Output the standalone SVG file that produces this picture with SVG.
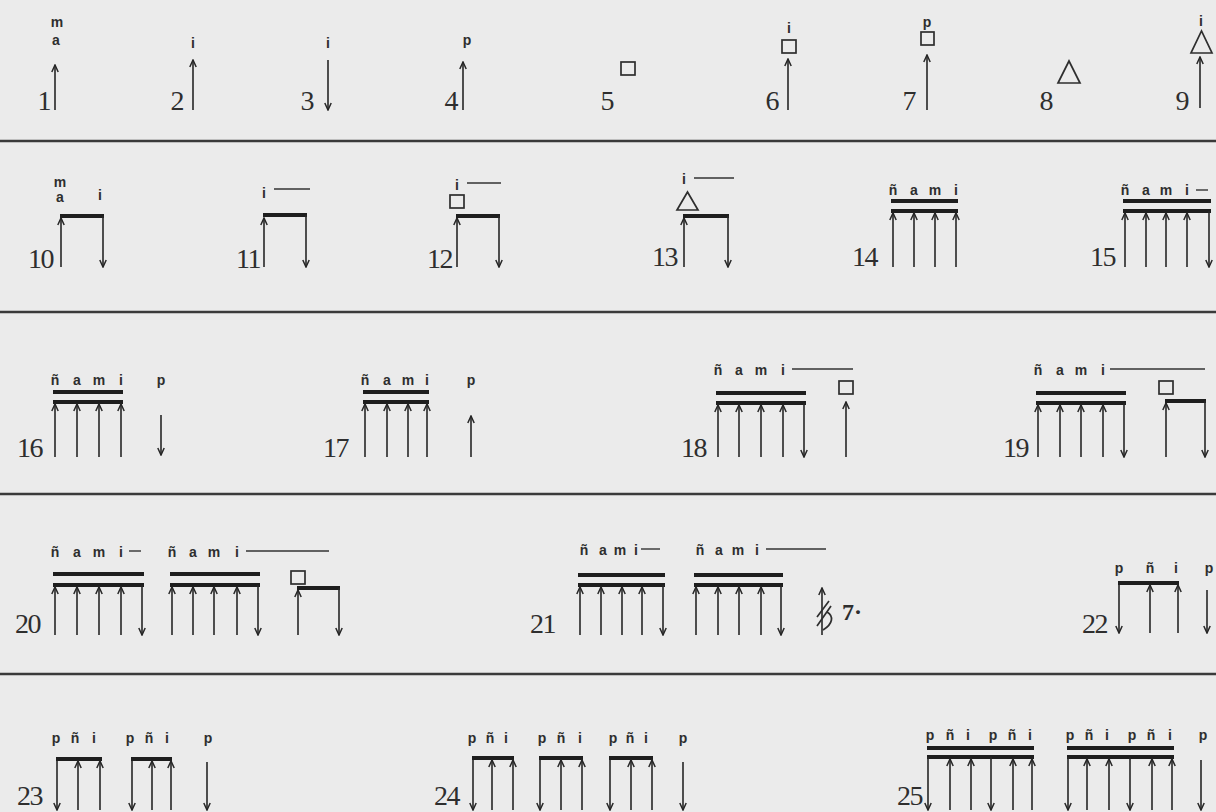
<svg xmlns="http://www.w3.org/2000/svg" width="1216" height="812" viewBox="0 0 1216 812">
<defs>
<marker id="ah" viewBox="-8 -4 9 8" refX="0" refY="0" markerWidth="9" markerHeight="8" orient="auto" markerUnits="userSpaceOnUse">
<path d="M-7,-3.2 L0,0 L-7,3.2" fill="none" stroke="#262626" stroke-width="1.5"/>
</marker>
<style>
.num{font-family:"Liberation Serif",serif;font-size:28px;fill:#2e2e2e;text-anchor:end;letter-spacing:-1.5px}
.lb{font-family:"Liberation Sans",sans-serif;font-weight:bold;font-size:14px;fill:#2e2e2e;text-anchor:middle}
.ar{stroke:#262626;stroke-width:1.6;fill:none;marker-end:url(#ah)}
.bm{stroke:#1e1e1e;stroke-width:3.8}
.ln{stroke:#333;stroke-width:1.4}
.sym{fill:none;stroke:#2e2e2e;stroke-width:1.7}
.sep{stroke:#3a3a3a;stroke-width:2.5}
</style>
</defs>
<rect width="1216" height="812" fill="#ebebeb"/>
<g id="separators">
<line class="sep" x1="0" y1="141" x2="1216" y2="141"/>
<line class="sep" x1="0" y1="312" x2="1216" y2="312"/>
<line class="sep" x1="0" y1="494" x2="1216" y2="494"/>
<line class="sep" x1="0" y1="674" x2="1216" y2="674"/>
</g>
<g id="item1"><text class="num" x="50" y="110">1</text><line class="ar" x1="55" y1="110" x2="55" y2="65"/><text class="lb" x="57" y="27">m</text><text class="lb" x="56" y="45">a</text></g>
<g id="item2"><text class="num" x="183" y="110">2</text><line class="ar" x1="193" y1="110" x2="193" y2="60"/><text class="lb" x="193" y="48">i</text></g>
<g id="item3"><text class="num" x="313" y="110">3</text><line class="ar" x1="328" y1="60" x2="328" y2="110"/><text class="lb" x="328" y="48">i</text></g>
<g id="item4"><text class="num" x="457" y="110">4</text><line class="ar" x1="463" y1="110" x2="463" y2="62"/><text class="lb" x="467" y="45">p</text></g>
<g id="item5"><text class="num" x="613" y="110">5</text><rect class="sym" x="621" y="62" width="14" height="13"/></g>
<g id="item6"><text class="num" x="778" y="110">6</text><line class="ar" x1="788" y1="110" x2="788" y2="59"/><rect class="sym" x="782" y="40" width="14" height="13"/><text class="lb" x="789" y="33">i</text></g>
<g id="item7"><text class="num" x="915" y="110">7</text><line class="ar" x1="927" y1="110" x2="927" y2="55"/><rect class="sym" x="921" y="32" width="13" height="13"/><text class="lb" x="927" y="27">p</text></g>
<g id="item8"><text class="num" x="1052" y="110">8</text><polygon class="sym" points="1058,83 1080,83 1069,61"/></g>
<g id="item9"><text class="num" x="1188" y="110">9</text><line class="ar" x1="1200" y1="108" x2="1200" y2="57"/><polygon class="sym" points="1191,53 1212,53 1201.5,31"/><text class="lb" x="1201" y="26">i</text></g>

<g id="item10"><text class="num" x="53" y="268">10</text><line class="ar" x1="61" y1="267" x2="61" y2="218"/><line class="bm" x1="60" y1="216" x2="104" y2="216"/><line class="ar" x1="103" y1="216" x2="103" y2="267"/><text class="lb" x="60" y="187">m</text><text class="lb" x="60" y="202">a</text><text class="lb" x="100" y="200">i</text></g>
<g id="item11"><text class="num" x="260" y="268">11</text><line class="ar" x1="264" y1="267" x2="264" y2="218"/><line class="bm" x1="263" y1="215" x2="307" y2="215"/><line class="ar" x1="306" y1="215" x2="306" y2="267"/><text class="lb" x="264" y="198">i</text><line class="ln" x1="274" y1="189" x2="310" y2="189"/></g>
<g id="item12"><text class="num" x="452" y="268">12</text><line class="ar" x1="457" y1="267" x2="457" y2="218"/><line class="bm" x1="456" y1="216" x2="500" y2="216"/><line class="ar" x1="499" y1="216" x2="499" y2="267"/><rect class="sym" x="450" y="195" width="14" height="13"/><text class="lb" x="457" y="190">i</text><line class="ln" x1="467" y1="183" x2="501" y2="183"/></g>
<g id="item13"><text class="num" x="677" y="266">13</text><line class="ar" x1="684" y1="267" x2="684" y2="218"/><line class="bm" x1="683" y1="216" x2="729" y2="216"/><line class="ar" x1="728" y1="216" x2="728" y2="267"/><polygon class="sym" points="677,210 698,210 687.5,192"/><text class="lb" x="684" y="184">i</text><line class="ln" x1="694" y1="178" x2="734" y2="178"/></g>
<g id="item14"><text class="num" x="877" y="266">14</text><line class="bm" x1="891" y1="201" x2="958" y2="201"/><line class="bm" x1="891" y1="211" x2="958" y2="211"/><line class="ar" x1="893" y1="267" x2="893" y2="213"/><line class="ar" x1="914" y1="267" x2="914" y2="213"/><line class="ar" x1="935" y1="267" x2="935" y2="213"/><line class="ar" x1="956" y1="267" x2="956" y2="213"/><text class="lb" x="893 914 935 956" y="195">ñami</text></g>
<g id="item15"><text class="num" x="1115" y="266">15</text><line class="bm" x1="1123" y1="201" x2="1211" y2="201"/><line class="bm" x1="1123" y1="211" x2="1211" y2="211"/><line class="ar" x1="1125" y1="267" x2="1125" y2="213"/><line class="ar" x1="1146" y1="267" x2="1146" y2="213"/><line class="ar" x1="1166" y1="267" x2="1166" y2="213"/><line class="ar" x1="1187" y1="267" x2="1187" y2="213"/><line class="ar" x1="1209" y1="211" x2="1209" y2="267"/><text class="lb" x="1125 1146 1166 1187" y="195">ñami</text><line class="ln" x1="1196" y1="190" x2="1208" y2="190"/></g>

<g id="item16"><text class="num" x="42" y="457">16</text><line class="bm" x1="53" y1="392" x2="123" y2="392"/><line class="bm" x1="53" y1="402" x2="123" y2="402"/><line class="ar" x1="55" y1="457" x2="55" y2="404"/><line class="ar" x1="77" y1="457" x2="77" y2="404"/><line class="ar" x1="99" y1="457" x2="99" y2="404"/><line class="ar" x1="121" y1="457" x2="121" y2="404"/><text class="lb" x="55 77 99 121" y="385">ñami</text><text class="lb" x="161" y="385">p</text><line class="ar" x1="161" y1="415" x2="161" y2="455"/></g>
<g id="item17"><text class="num" x="348" y="457">17</text><line class="bm" x1="363" y1="392" x2="429" y2="392"/><line class="bm" x1="363" y1="402" x2="429" y2="402"/><line class="ar" x1="365" y1="457" x2="365" y2="404"/><line class="ar" x1="387" y1="457" x2="387" y2="404"/><line class="ar" x1="408" y1="457" x2="408" y2="404"/><line class="ar" x1="427" y1="457" x2="427" y2="404"/><text class="lb" x="365 387 408 427" y="385">ñami</text><text class="lb" x="471" y="385">p</text><line class="ar" x1="471" y1="457" x2="471" y2="416"/></g>
<g id="item18"><text class="num" x="706" y="457">18</text><line class="bm" x1="716" y1="393" x2="806" y2="393"/><line class="bm" x1="716" y1="403" x2="806" y2="403"/><line class="ar" x1="718" y1="457" x2="718" y2="405"/><line class="ar" x1="739" y1="457" x2="739" y2="405"/><line class="ar" x1="761" y1="457" x2="761" y2="405"/><line class="ar" x1="783" y1="457" x2="783" y2="405"/><line class="ar" x1="804" y1="403" x2="804" y2="457"/><text class="lb" x="718 739 761 783" y="375">ñami</text><line class="ln" x1="792" y1="369" x2="853" y2="369"/><rect class="sym" x="839" y="381" width="14" height="13"/><line class="ar" x1="846" y1="457" x2="846" y2="402"/></g>
<g id="item19"><text class="num" x="1028" y="457">19</text><line class="bm" x1="1036" y1="393" x2="1126" y2="393"/><line class="bm" x1="1036" y1="403" x2="1126" y2="403"/><line class="ar" x1="1038" y1="457" x2="1038" y2="405"/><line class="ar" x1="1060" y1="457" x2="1060" y2="405"/><line class="ar" x1="1081" y1="457" x2="1081" y2="405"/><line class="ar" x1="1103" y1="457" x2="1103" y2="405"/><line class="ar" x1="1124" y1="403" x2="1124" y2="457"/><text class="lb" x="1038 1060 1081 1103" y="375">ñami</text><line class="ln" x1="1110" y1="369" x2="1205" y2="369"/><rect class="sym" x="1159" y="381" width="14" height="13"/><line class="ar" x1="1166" y1="457" x2="1166" y2="403"/><line class="bm" x1="1165" y1="401" x2="1206" y2="401"/><line class="ar" x1="1205" y1="401" x2="1205" y2="457"/></g>

<g id="item20"><text class="num" x="40" y="633">20</text><line class="bm" x1="53" y1="574" x2="144" y2="574"/><line class="bm" x1="53" y1="585" x2="144" y2="585"/><line class="ar" x1="55" y1="635" x2="55" y2="587"/><line class="ar" x1="77" y1="635" x2="77" y2="587"/><line class="ar" x1="99" y1="635" x2="99" y2="587"/><line class="ar" x1="121" y1="635" x2="121" y2="587"/><line class="ar" x1="142" y1="585" x2="142" y2="635"/><text class="lb" x="55 77 99 121" y="557">ñami</text><line class="ln" x1="129" y1="551" x2="141" y2="551"/><line class="bm" x1="170" y1="574" x2="260" y2="574"/><line class="bm" x1="170" y1="585" x2="260" y2="585"/><line class="ar" x1="172" y1="635" x2="172" y2="587"/><line class="ar" x1="193" y1="635" x2="193" y2="587"/><line class="ar" x1="214" y1="635" x2="214" y2="587"/><line class="ar" x1="237" y1="635" x2="237" y2="587"/><line class="ar" x1="258" y1="585" x2="258" y2="635"/><text class="lb" x="172 193 214 237" y="557">ñami</text><line class="ln" x1="246" y1="551" x2="329" y2="551"/><rect class="sym" x="291" y="571" width="14" height="13"/><line class="ar" x1="298" y1="635" x2="298" y2="590"/><line class="bm" x1="297" y1="588" x2="340" y2="588"/><line class="ar" x1="339" y1="588" x2="339" y2="635"/></g>
<g id="item21"><text class="num" x="555" y="633">21</text><line class="bm" x1="578" y1="575" x2="665" y2="575"/><line class="bm" x1="578" y1="585" x2="665" y2="585"/><line class="ar" x1="580" y1="635" x2="580" y2="587"/><line class="ar" x1="601" y1="635" x2="601" y2="587"/><line class="ar" x1="622" y1="635" x2="622" y2="587"/><line class="ar" x1="642" y1="635" x2="642" y2="587"/><line class="ar" x1="663" y1="585" x2="663" y2="635"/><text class="lb" x="584 603 620 636" y="555">ñami</text><line class="ln" x1="641" y1="549" x2="660" y2="549"/><line class="bm" x1="694" y1="575" x2="783" y2="575"/><line class="bm" x1="694" y1="585" x2="783" y2="585"/><line class="ar" x1="696" y1="635" x2="696" y2="587"/><line class="ar" x1="718" y1="635" x2="718" y2="587"/><line class="ar" x1="739" y1="635" x2="739" y2="587"/><line class="ar" x1="761" y1="635" x2="761" y2="587"/><line class="ar" x1="781" y1="585" x2="781" y2="635"/><text class="lb" x="700 719 738 757" y="555">ñami</text><line class="ln" x1="766" y1="549" x2="826" y2="549"/><line class="ar" x1="822" y1="635" x2="822" y2="588"/><path class="sym" d="M817,626 L831,606 M817,617 L829,601 M823,630 C833,624 834,616 827,612"/><text x="842" y="620" style="font-family:'Liberation Serif',serif;font-weight:bold;font-size:24px;fill:#2e2e2e">7·</text></g>
<g id="item22"><text class="num" x="1107" y="633">22</text><line class="ar" x1="1119" y1="583" x2="1119" y2="633"/><line class="bm" x1="1118" y1="583" x2="1179" y2="583"/><line class="ar" x1="1150" y1="633" x2="1150" y2="585"/><line class="ar" x1="1178" y1="633" x2="1178" y2="585"/><text class="lb" x="1119 1134 1150 1163 1176 1192 1209" y="573">p ñ i p</text><line class="ar" x1="1207" y1="590" x2="1207" y2="633"/></g>

<g id="item23"><text class="num" x="42" y="805">23</text><line class="ar" x1="57" y1="759" x2="57" y2="810"/><line class="bm" x1="56" y1="759" x2="102" y2="759"/><line class="ar" x1="78" y1="810" x2="78" y2="761"/><line class="ar" x1="100" y1="810" x2="100" y2="761"/><text class="lb" x="56 75 94" y="743">pñi</text><line class="ar" x1="132" y1="759" x2="132" y2="810"/><line class="bm" x1="131" y1="759" x2="172" y2="759"/><line class="ar" x1="152" y1="810" x2="152" y2="761"/><line class="ar" x1="171" y1="810" x2="171" y2="761"/><text class="lb" x="130 149 167" y="743">pñi</text><text class="lb" x="208" y="743">p</text><line class="ar" x1="207" y1="762" x2="207" y2="810"/></g>
<g id="item24"><text class="num" x="459" y="805">24</text><line class="ar" x1="473" y1="758" x2="473" y2="810"/><line class="bm" x1="472" y1="758" x2="514" y2="758"/><line class="ar" x1="492" y1="810" x2="492" y2="760"/><line class="ar" x1="513" y1="810" x2="513" y2="760"/><text class="lb" x="472 490 506" y="743">pñi</text><line class="ar" x1="540" y1="758" x2="540" y2="810"/><line class="bm" x1="539" y1="758" x2="583" y2="758"/><line class="ar" x1="561" y1="810" x2="561" y2="760"/><line class="ar" x1="582" y1="810" x2="582" y2="760"/><text class="lb" x="542 561 580" y="743">pñi</text><line class="ar" x1="610" y1="758" x2="610" y2="810"/><line class="bm" x1="609" y1="758" x2="653" y2="758"/><line class="ar" x1="631" y1="810" x2="631" y2="760"/><line class="ar" x1="652" y1="810" x2="652" y2="760"/><text class="lb" x="613 630 646" y="743">pñi</text><text class="lb" x="683" y="743">p</text><line class="ar" x1="683" y1="762" x2="683" y2="810"/></g>
<g id="item25"><text class="num" x="922" y="805">25</text><line class="bm" x1="927" y1="748" x2="1034" y2="748"/><line class="bm" x1="927" y1="757" x2="1034" y2="757"/><line class="ar" x1="928" y1="757" x2="928" y2="810"/><line class="ar" x1="950" y1="810" x2="950" y2="759"/><line class="ar" x1="971" y1="810" x2="971" y2="759"/><line class="ar" x1="991" y1="757" x2="991" y2="810"/><line class="ar" x1="1013" y1="810" x2="1013" y2="759"/><line class="ar" x1="1032" y1="810" x2="1032" y2="759"/><text class="lb" x="930 950 968 980 993 1012 1030" y="740">pñi pñi</text><line class="bm" x1="1067" y1="748" x2="1174" y2="748"/><line class="bm" x1="1067" y1="757" x2="1174" y2="757"/><line class="ar" x1="1068" y1="757" x2="1068" y2="810"/><line class="ar" x1="1087" y1="810" x2="1087" y2="759"/><line class="ar" x1="1109" y1="810" x2="1109" y2="759"/><line class="ar" x1="1130" y1="757" x2="1130" y2="810"/><line class="ar" x1="1152" y1="810" x2="1152" y2="759"/><line class="ar" x1="1172" y1="810" x2="1172" y2="759"/><text class="lb" x="1070 1089 1107 1119 1132 1151 1170" y="740">pñi pñi</text><text class="lb" x="1203" y="740">p</text><line class="ar" x1="1201" y1="760" x2="1201" y2="810"/></g>
</svg>
